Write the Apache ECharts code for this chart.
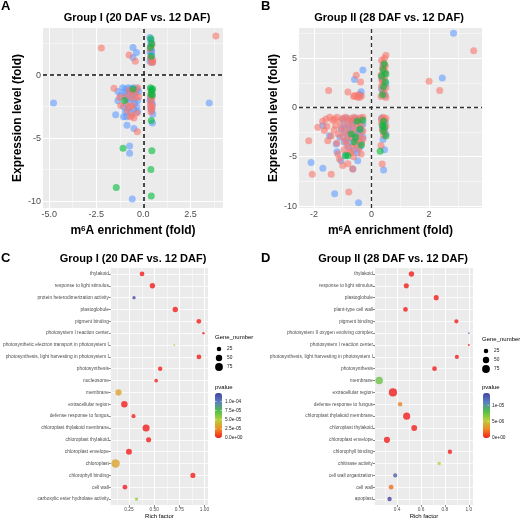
<!DOCTYPE html>
<html>
<head>
<meta charset="utf-8">
<script src="https://cdn.jsdelivr.net/npm/echarts@6/dist/echarts.min.js"></script>
<style>
  html, body { margin: 0; padding: 0; background: #fff; }
  #chart { width: 520px; height: 520px; }
</style>
</head>
<body>
<div id="chart"></div>
<script>
const FONT = '"Liberation Sans", Arial, sans-serif';

// ---- panel A : Group I, m6A enrichment vs expression ----
const groupA_blue = [
  [-4.77, -2.2], [3.5, -2.2], [-0.55, 2.2], [-0.37, 1.8], [-0.55, 1.4],
  [0.35, 3.0], [0.4, 2.8], [0.38, 2.3], [0.42, 2.0], [0.36, 1.8], [0.45, 1.6], [0.4, 1.3], [0.35, 1.1],
  [0.48, 1.0], [0.4, 2.6], [0.44, 1.9],
  [0.4, -1.1], [0.45, -1.4], [0.38, -1.8], [0.42, -2.1], [0.48, -2.3], [0.4, -2.6], [0.45, -2.8],
  [0.5, -3.1], [0.48, -3.8], [0.36, -2.0],
  [-1.35, -1.3], [-1.35, -2.03], [-1.47, -3.15], [-0.9, -3.3], [-1.05, -3.3], [-0.87, -3.98], [-0.5, -4.24],
  [-0.73, -5.63], [-0.73, -6.2], [-0.59, -9.84],
  [-1.1, -1.0], [-0.95, -1.1], [-0.8, -1.0], [-0.65, -1.05], [-0.5, -1.0], [-0.35, -1.1], [-1.0, -1.4],
  [-0.85, -1.5], [-0.7, -1.3], [-0.55, -1.6], [-0.4, -1.4], [-0.25, -1.3], [-0.9, -1.9], [-0.75, -2.1],
  [-0.6, -1.9], [-0.45, -2.2], [-0.3, -2.0], [-1.05, -2.5], [-0.8, -2.6], [-0.5, -2.7], [-0.35, -2.5],
  [-0.95, -2.9], [-0.65, -3.0], [-0.3, -2.9], [-1.2, -1.6]
];
const groupA_red = [
  [3.85, 3.12], [-2.23, 2.16], [-0.76, 1.6], [-0.43, 1.1],
  [0.45, 2.4], [0.5, 1.2], [0.38, 1.4], [0.42, 1.0], [0.5, 1.05], [0.36, 2.1],
  [0.42, -1.3], [0.38, -1.7], [0.45, -1.9], [0.4, -2.2], [0.48, -2.5], [0.42, -2.7], [0.38, -2.4],
  [0.45, -1.6], [0.4, -2.9],
  [-1.56, -1.04], [-1.26, -1.77], [-0.32, -4.5],
  [-0.75, -1.2], [-0.6, -1.35], [-0.45, -1.25], [-0.3, -1.0], [-1.2, -2.4], [-0.9, -2.3], [-0.7, -2.5],
  [-0.55, -2.4], [-0.4, -1.8], [-0.25, -1.7], [-0.85, -2.8], [-0.6, -3.2], [-0.5, -3.4], [-0.7, -3.3],
  [-0.35, -3.0], [-0.95, -1.7], [-0.65, -1.75]
];
const groupA_green = [
  [0.4, 2.9], [0.45, 2.5], [0.38, 2.2], [0.42, 1.5],
  [0.38, -1.0], [0.45, -1.2], [0.4, -1.5], [0.48, -1.6], [0.42, -3.6], [0.45, -6.0], [0.4, -7.5],
  [0.42, -9.6], [0.5, -1.1],
  [-1.08, -5.8], [-1.44, -8.93], [-1.0, -2.0], [-0.55, -1.1]
];
const ticksXA = [-5, -2.5, 0, 2.5];
const minorXA = [-3.75, -1.25, 1.25, 3.75];
const ticksYA = [-10, -5, 0];
const minorYA = [-7.5, -2.5, 2.5];

// ---- panel B : Group II ----
const groupB_blue = [
  [2.85, 7.52], [2.46, 2.99], [-0.3, 3.8], [-0.59, 2.83], [-0.36, 1.6], [-0.4, 1.3],
  [0.4, 4.3], [0.45, 3.5], [0.38, 2.8], [0.5, 2.4], [0.35, 1.9], [0.42, 1.5], [0.48, 1.2], [0.36, 3.1],
  [0.45, -4.28], [0.42, -6.35], [0.4, -3.25], [0.48, -1.5], [0.38, -2.0], [0.45, -2.3], [0.5, -2.7], [0.35, -1.1],
  [-2.1, -5.58], [-1.69, -6.16], [-1.28, -8.75], [-0.45, -9.67], [-1.69, -1.84], [-1.46, -2.86], [-1.23, -3.7],
  [-1.06, -5.4], [-0.48, -5.4], [-0.65, -6.25],
  [-1.0, -1.2], [-0.85, -1.1], [-0.7, -1.4], [-0.55, -1.1], [-0.45, -1.3], [-0.35, -1.2], [-0.95, -1.8],
  [-0.8, -2.0], [-0.65, -1.9], [-0.5, -2.3], [-0.4, -2.1], [-0.3, -1.7], [-0.9, -2.6], [-0.75, -2.5],
  [-0.6, -2.9], [-0.45, -2.6], [-0.35, -2.4], [-0.85, -3.2], [-0.7, -3.5], [-0.55, -3.2], [-0.4, -3.5],
  [-0.3, -3.0], [-0.8, -4.0], [-0.6, -4.3], [-0.5, -4.6], [-0.4, -4.0], [-0.95, -3.5], [-1.1, -3.0],
  [-1.05, -2.2], [-0.65, -1.3], [-1.2, -4.5], [-0.9, -4.8]
];
const groupB_red = [
  [3.55, 5.74], [2.0, 2.65], [2.37, 1.73],
  [-0.53, 3.26], [-0.38, 2.58], [-1.49, 1.73], [-0.82, 1.56], [-0.59, 1.2], [-0.5, 1.05], [-0.42, 1.0],
  [-0.35, 1.15], [-0.45, 1.3], [-0.62, 1.1],
  [0.5, 5.3], [0.45, 5.0], [0.35, 4.8], [0.42, 4.5], [0.38, 4.0], [0.48, 3.6], [0.33, 3.3], [0.45, 3.0],
  [0.4, 2.6], [0.35, 2.2], [0.5, 2.0], [0.38, 1.7], [0.45, 1.4], [0.33, 1.1], [0.5, 1.0], [0.42, 3.9],
  [0.36, 2.8], [0.48, 4.2],
  [0.4, -1.0], [0.45, -1.3], [0.35, -1.6], [0.5, -1.9], [0.38, -2.2], [0.45, -2.5], [0.5, -1.1],
  [0.33, -3.86], [0.37, -5.74], [0.42, -2.8], [0.35, -1.2],
  [-2.18, -3.37], [-2.06, -6.77], [-1.4, -6.77], [-0.79, -8.58], [-1.87, -2.0], [-1.64, -2.35], [-1.58, -1.16],
  [-1.29, -1.16], [-1.52, -3.37], [-1.17, -4.72], [-1.11, -5.23], [-1.0, -5.9], [-0.82, -5.7], [-0.36, -4.72],
  [-0.71, -4.6], [-0.65, -6.25],
  [-1.45, -1.0], [-1.35, -1.3], [-1.2, -1.0], [-1.1, -1.4], [-1.0, -1.1], [-0.9, -1.0], [-0.8, -1.3],
  [-0.7, -1.1], [-0.6, -1.0], [-0.5, -1.2], [-0.4, -1.05], [-0.3, -1.0], [-1.25, -1.8], [-1.05, -2.0],
  [-0.95, -2.4], [-0.85, -1.7], [-0.75, -2.2], [-0.65, -1.6], [-0.55, -2.0], [-0.45, -1.5], [-0.35, -1.8],
  [-1.15, -2.7], [-1.0, -3.0], [-0.9, -3.4], [-0.8, -2.8], [-0.7, -3.1], [-0.6, -2.6], [-0.5, -3.3],
  [-0.4, -2.9], [-0.3, -2.4], [-0.85, -3.8], [-0.65, -4.0], [-0.55, -3.7], [-0.45, -4.2], [-0.35, -3.6],
  [-0.95, -4.3], [-0.75, -4.5], [-1.3, -2.3], [-1.4, -2.9], [-1.2, -3.6], [-0.3, -3.2], [-0.62, -5.0],
  [-1.7, -1.4], [-1.55, -1.9]
];
const groupB_green = [
  [0.45, 4.4], [0.4, 3.8], [0.35, 3.2], [0.48, 2.6], [0.42, 2.1], [0.38, 1.3], [0.5, 3.4],
  [0.3, -4.45], [0.42, -1.4], [0.38, -1.8], [0.45, -2.0], [0.5, -2.9], [0.4, -2.4],
  [-0.82, -4.9], [-0.9, -4.9], [-0.5, -1.4], [-0.7, -2.7], [-0.4, -2.2], [-0.55, -3.0], [-0.35, -3.8],
  [-0.6, -3.5], [-0.3, -1.3]
];
const ticksXB = [-2, 0, 2];
const minorXB = [-1, 1, 3];
const ticksYB = [-10, -5, 0, 5];
const minorYB = [-7.5, -2.5, 2.5, 7.5];

// ---- panel C : Group I enrichment ----
const catsC = ['thylakoid', 'response to light stimulus', 'protein heterodimerization activity', 'plastoglobule',
  'pigment binding', 'photosystem I reaction center', 'photosynthetic electron transport in photosystem I',
  'photosynthesis, light harvesting in photosystem I', 'photosynthesis', 'nucleosome', 'membrane',
  'extracellular region', 'defense response to fungus', 'chloroplast thylakoid membrane', 'chloroplast thylakoid',
  'chloroplast envelope', 'chloroplast', 'chlorophyll binding', 'cell wall', 'carboxylic ester hydrolase activity'];
const richC = [0.38, 0.483, 0.30, 0.71, 0.944, 0.99, 0.70, 0.945, 0.56, 0.52, 0.146, 0.204, 0.295, 0.42, 0.445,
  0.25, 0.117, 0.885, 0.21, 0.325];
const geneC = [28, 36, 14, 36, 28, 7, 4, 28, 24, 17, 47, 52, 21, 62, 32, 44, 88, 32, 28, 14];
const pvalC = [0, 0, 1.22e-4, 0, 0, 0, 4.6e-5, 0, 0, 1e-6, 3.3e-5, 0, 2e-6, 0, 0, 0, 3.3e-5, 0, 0, 5.5e-5];
const ticksXC = [0.25, 0.5, 0.75, 1.0];
const minorXC = [0.125, 0.375, 0.625, 0.875];
const pTicksC = [0, 2.5e-5, 5e-5, 7.5e-5, 1e-4];
const pLabelsC = ['0.0e+00', '2.5e-05', '5.0e-05', '7.5e-05', '1.0e-04'];

// ---- panel D : Group II enrichment ----
const catsD = ['thylakoid', 'response to light stimulus', 'plastoglobule', 'plant-type cell wall', 'pigment binding',
  'photosystem II oxygen evolving complex', 'photosystem I reaction center',
  'photosynthesis, light harvesting in photosystem I', 'photosynthesis', 'membrane', 'extracellular region',
  'defense response to fungus', 'chloroplast thylakoid membrane', 'chloroplast thylakoid', 'chloroplast envelope',
  'chlorophyll binding', 'chitinase activity', 'cell wall organization', 'cell wall', 'apoplast'];
const richD = [0.52, 0.477, 0.727, 0.47, 0.896, 1.0, 1.0, 0.90, 0.713, 0.25, 0.365, 0.425, 0.48, 0.543, 0.315,
  0.842, 0.752, 0.384, 0.35, 0.337];
const geneD = [36, 32, 32, 28, 21, 4, 5, 21, 28, 70, 83, 24, 63, 42, 47, 24, 14, 21, 28, 24];
const pvalD = [0, 0, 0, 0, 0, 1.1e-5, 0, 0, 0, 7.5e-6, 0, 2.5e-6, 0, 0, 0, 0, 5.5e-6, 1.25e-5, 2e-6, 1.375e-5];
const ticksXD = [0.4, 0.6, 0.8, 1.0];
const minorXD = [0.3, 0.5, 0.7, 0.9];
const pTicksD = [0, 5e-6, 1e-5];
const pLabelsD = ['0e+00', '5e-06', '1e-05'];

const sizeKeys = [25, 50, 75];

// ---- helpers ----
const RED = '#F8766D', GREEN = '#00BA38', BLUE = '#619CFF';
const PCOLORS = ['#f21d1d', '#f08a24', '#b8cf3a', '#4fbf4a', '#5a7dc0', '#4444a2'];
const sz = n => 0.9 * Math.sqrt(n);

const chart = echarts.init(document.getElementById('chart'), null, { renderer: 'canvas' });

function gridLines(gi, majX, minX, majY, minY) {
  const data = [];
  majX.forEach(v => data.push({ xAxis: v, lineStyle: { width: 1 } }));
  minX.forEach(v => data.push({ xAxis: v, lineStyle: { width: 0.5 } }));
  majY.forEach(v => data.push({ yAxis: v, lineStyle: { width: 1 } }));
  minY.forEach(v => data.push({ yAxis: v, lineStyle: { width: 0.5 } }));
  return {
    type: 'scatter', xAxisIndex: gi, yAxisIndex: gi, data: [], z: 1, silent: true,
    markLine: {
      z: 1, silent: true, symbol: 'none', animation: false, label: { show: false },
      lineStyle: { color: '#ffffff', type: 'solid' }, emphasis: { disabled: true },
      data: data
    }
  };
}
function zeroLines(gi, color, width) {
  return {
    type: 'scatter', xAxisIndex: gi, yAxisIndex: gi, data: [], z: 5, silent: true,
    markLine: {
      z: 6, silent: true, symbol: 'none', animation: false, label: { show: false },
      lineStyle: { color: color, type: [4, 3], width: width }, emphasis: { disabled: true },
      data: [{ xAxis: 0 }, { yAxis: 0 }]
    }
  };
}
function pts(gi, data, color) {
  return {
    type: 'scatter', xAxisIndex: gi, yAxisIndex: gi, data: data, z: 3, symbolSize: 7,
    itemStyle: { color: color, opacity: 0.6 }, silent: true
  };
}
function valAxis(gi, min, max, ticks, fmt, extra) {
  return Object.assign({
    gridIndex: gi, type: 'value', min: min, max: max,
    splitLine: { show: false }, axisLine: { show: false },
    axisTick: { show: true, length: 3, lineStyle: { color: '#333' }, customValues: ticks },
    axisLabel: { customValues: ticks, formatter: fmt, fontSize: 9, color: '#4d4d4d', fontFamily: FONT, margin: 2 }
  }, extra || {});
}
const mName = {
  name: '{t|m}{s|6}{t|A enrichment (fold)}', nameLocation: 'middle', nameGap: 17,
  nameTextStyle: {
    rich: {
      t: { fontSize: 12, fontWeight: 'bold', fontFamily: FONT, color: '#000', verticalAlign: 'bottom' },
      s: { fontSize: 8, fontWeight: 'bold', fontFamily: FONT, color: '#000', verticalAlign: 'top' }
    }
  }
};
const eName = {
  name: 'Expression level (fold)', nameLocation: 'middle', nameGap: 10, nameRotate: 90,
  nameTextStyle: { fontSize: 12, fontWeight: 'bold', fontFamily: FONT, color: '#000' }
};
function catAxis(gi, cats) {
  return {
    gridIndex: gi, type: 'category', data: cats, inverse: true, boundaryGap: true,
    splitLine: { show: false }, axisLine: { show: false },
    axisTick: { show: true, length: 2, alignWithLabel: true, lineStyle: { color: '#333', width: 0.6 } },
    axisLabel: { interval: 0, fontSize: 4.8, color: '#4d4d4d', fontFamily: FONT, margin: 2 }
  };
}
function richAxis(gi, min, max, ticks, fmt) {
  return {
    gridIndex: gi, type: 'value', min: min, max: max,
    splitLine: { show: false }, axisLine: { show: false },
    axisTick: { show: true, length: 2, lineStyle: { color: '#333', width: 0.6 }, customValues: ticks },
    axisLabel: { customValues: ticks, formatter: fmt, fontSize: 4.8, color: '#4d4d4d', fontFamily: FONT, margin: 2 },
    name: 'Rich factor', nameLocation: 'middle', nameGap: 8,
    nameTextStyle: { fontSize: 6, color: '#000', fontFamily: FONT }
  };
}
function enrichSeries(gi, rich, gene, pval) {
  return {
    type: 'scatter', xAxisIndex: gi, yAxisIndex: gi, z: 3, silent: true,
    data: rich.map((r, i) => [r, i, gene[i], pval[i]]),
    symbolSize: v => sz(v[2])
  };
}
function catLines(gi, majX, minX, n) {
  const s = gridLines(gi, majX, minX, [], []);
  for (let i = 0; i < n; i++) s.markLine.data.push({ yAxis: i, lineStyle: { width: 0.8 } });
  return s;
}

function txt(x, y, text, font, align, color) {
  return {
    type: 'text', x: x, y: y, silent: true,
    style: { text: text, font: font, fill: color || '#000', align: align || 'left', verticalAlign: 'middle' }
  };
}
function legendGraphics(x0, titleY, pvalY, barTop, barH, pMax, pTicks, pLabels) {
  const g = [];
  g.push(txt(x0, titleY, 'Gene_number', '6px ' + FONT, 'left', '#000'));
  const ys = [titleY + 12, titleY + 21, titleY + 30];
  sizeKeys.forEach((n, i) => {
    g.push({ type: 'circle', silent: true, shape: { cx: x0 + 4, cy: ys[i], r: sz(n) / 2 }, style: { fill: '#000' } });
    g.push(txt(x0 + 12, ys[i], String(n), '4.8px ' + FONT, 'left', '#222'));
  });
  g.push(txt(x0, pvalY, 'pvalue', '6px ' + FONT, 'left', '#000'));
  pTicks.forEach((v, i) => {
    const y = barTop + barH * (1 - v / pMax);
    g.push(txt(x0 + 10, y, pLabels[i], '4.8px ' + FONT, 'left', '#222'));
    g.push({ type: 'line', silent: true, z: 10, shape: { x1: x0, y1: y, x2: x0 + 1.5, y2: y }, style: { stroke: '#fff', lineWidth: 0.6 } });
    g.push({ type: 'line', silent: true, z: 10, shape: { x1: x0 + 5.5, y1: y, x2: x0 + 7, y2: y }, style: { stroke: '#fff', lineWidth: 0.6 } });
  });
  return g;
}

const gridStyle = { show: true, backgroundColor: '#ebebeb', borderWidth: 0 };
const option = {
  animation: false,
  backgroundColor: '#ffffff',
  textStyle: { fontFamily: FONT },
  grid: [
    Object.assign({ left: 43, top: 28, width: 180, height: 180 }, gridStyle),
    Object.assign({ left: 299, top: 28, width: 183, height: 180 }, gridStyle),
    Object.assign({ left: 108, top: 268, width: 100, height: 239 }, gridStyle),
    Object.assign({ left: 375, top: 268, width: 98, height: 239 }, gridStyle)
  ],
  xAxis: [
    valAxis(0, -5.33, 4.23, ticksXA, v => v.toFixed(1), mName),
    valAxis(1, -2.52, 3.84, ticksXB, v => String(v), mName),
    richAxis(2, 0.07, 1.035, ticksXC, v => v.toFixed(2)),
    richAxis(3, 0.215, 1.035, ticksXD, v => v.toFixed(1))
  ],
  yAxis: [
    valAxis(0, -10.55, 3.75, ticksYA, v => String(v), eName),
    valAxis(1, -10.2, 8.06, ticksYB, v => String(v), eName),
    catAxis(2, catsC),
    catAxis(3, catsD)
  ],
  visualMap: [
    {
      type: 'continuous', seriesIndex: 11, dimension: 3, min: 0, max: 1.23e-4,
      inRange: { color: PCOLORS }, calculable: false, hoverLink: false, orient: 'vertical',
      left: 215, top: 393, itemWidth: 7, itemHeight: 45, padding: 0
    },
    {
      type: 'continuous', seriesIndex: 13, dimension: 3, min: 0, max: 1.375e-5,
      inRange: { color: PCOLORS }, calculable: false, hoverLink: false, orient: 'vertical',
      left: 483, top: 393, itemWidth: 7, itemHeight: 45, padding: 0
    }
  ],
  series: [
    gridLines(0, ticksXA, minorXA, ticksYA, minorYA),
    pts(0, groupA_blue, BLUE), pts(0, groupA_red, RED), pts(0, groupA_green, GREEN),
    zeroLines(0, '#111', 1.5),
    gridLines(1, ticksXB, minorXB, ticksYB, minorYB),
    pts(1, groupB_blue, BLUE), pts(1, groupB_red, RED), pts(1, groupB_green, GREEN),
    zeroLines(1, '#333', 1.3),
    catLines(2, ticksXC, minorXC, catsC.length),
    enrichSeries(2, richC, geneC, pvalC),
    catLines(3, ticksXD, minorXD, catsD.length),
    enrichSeries(3, richD, geneD, pvalD)
  ],
  graphic: [
    txt(1, 6, 'A', 'bold 13px ' + FONT),
    txt(261, 6, 'B', 'bold 13px ' + FONT),
    txt(1, 258, 'C', 'bold 13px ' + FONT),
    txt(261, 258, 'D', 'bold 13px ' + FONT),
    txt(137, 18, 'Group I (20 DAF vs. 12 DAF)', 'bold 11px ' + FONT, 'center'),
    txt(389, 18, 'Group II (28 DAF vs. 12 DAF)', 'bold 11px ' + FONT, 'center'),
    txt(133, 259, 'Group I (20 DAF vs. 12 DAF)', 'bold 11px ' + FONT, 'center'),
    txt(393, 259, 'Group II (28 DAF vs. 12 DAF)', 'bold 11px ' + FONT, 'center')
  ].concat(
    legendGraphics(215, 337, 387, 393, 45, 1.23e-4, pTicksC, pLabelsC),
    legendGraphics(482, 339, 387, 393, 45, 1.375e-5, pTicksD, pLabelsD)
  )
};
chart.setOption(option);
</script>
</body>
</html>
